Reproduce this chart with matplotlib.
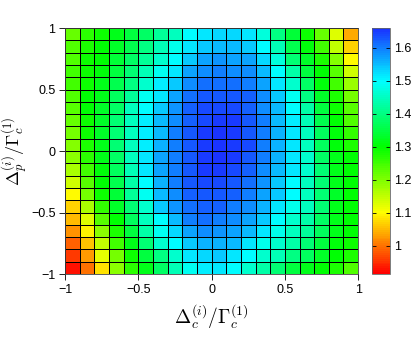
import matplotlib
matplotlib.use("Agg")
import matplotlib.pyplot as plt
import numpy as np
from matplotlib.colors import LinearSegmentedColormap

plt.rcParams['font.family'] = ['Liberation Sans', 'DejaVu Sans']
plt.rcParams['mathtext.fontset'] = 'cm'

# cell edges along both detunings
x_edges = np.linspace(-1, 1, 21)
y_edges = np.linspace(-1, 1, 21)

# cell values, rows listed from top (y = 1) to bottom (y = -1)
z_rows = [
    [1.22, 1.27, 1.29, 1.32, 1.35, 1.38, 1.42, 1.45, 1.50, 1.52, 1.53, 1.53, 1.52, 1.47, 1.40, 1.34, 1.29, 1.22, 1.13, 1.04],
    [1.24, 1.28, 1.30, 1.33, 1.36, 1.40, 1.44, 1.48, 1.52, 1.54, 1.55, 1.55, 1.54, 1.50, 1.44, 1.36, 1.31, 1.25, 1.15, 1.07],
    [1.24, 1.29, 1.30, 1.34, 1.38, 1.42, 1.46, 1.50, 1.54, 1.57, 1.58, 1.57, 1.57, 1.53, 1.47, 1.39, 1.33, 1.28, 1.20, 1.10],
    [1.25, 1.29, 1.31, 1.35, 1.39, 1.44, 1.49, 1.52, 1.57, 1.59, 1.60, 1.59, 1.59, 1.55, 1.50, 1.43, 1.35, 1.30, 1.23, 1.14],
    [1.25, 1.29, 1.32, 1.36, 1.40, 1.46, 1.51, 1.54, 1.59, 1.61, 1.61, 1.61, 1.60, 1.57, 1.52, 1.46, 1.38, 1.31, 1.25, 1.18],
    [1.24, 1.30, 1.32, 1.37, 1.42, 1.49, 1.52, 1.57, 1.61, 1.63, 1.63, 1.63, 1.62, 1.59, 1.54, 1.49, 1.40, 1.33, 1.28, 1.21],
    [1.23, 1.30, 1.33, 1.38, 1.45, 1.50, 1.54, 1.58, 1.62, 1.64, 1.64, 1.64, 1.62, 1.59, 1.55, 1.50, 1.43, 1.35, 1.29, 1.23],
    [1.22, 1.29, 1.33, 1.39, 1.45, 1.51, 1.55, 1.59, 1.62, 1.64, 1.65, 1.65, 1.63, 1.60, 1.55, 1.51, 1.44, 1.36, 1.30, 1.24],
    [1.21, 1.29, 1.33, 1.39, 1.45, 1.51, 1.55, 1.60, 1.63, 1.65, 1.66, 1.65, 1.63, 1.60, 1.56, 1.52, 1.45, 1.37, 1.31, 1.26],
    [1.20, 1.28, 1.32, 1.39, 1.45, 1.51, 1.56, 1.60, 1.63, 1.65, 1.66, 1.65, 1.64, 1.60, 1.56, 1.52, 1.45, 1.37, 1.31, 1.28],
    [1.19, 1.27, 1.32, 1.38, 1.45, 1.52, 1.57, 1.60, 1.63, 1.65, 1.66, 1.65, 1.63, 1.60, 1.56, 1.52, 1.46, 1.38, 1.32, 1.30],
    [1.17, 1.25, 1.31, 1.37, 1.44, 1.52, 1.57, 1.60, 1.63, 1.65, 1.65, 1.64, 1.62, 1.59, 1.55, 1.52, 1.46, 1.39, 1.32, 1.30],
    [1.14, 1.23, 1.30, 1.36, 1.43, 1.50, 1.56, 1.60, 1.63, 1.64, 1.64, 1.63, 1.61, 1.58, 1.54, 1.50, 1.45, 1.39, 1.32, 1.30],
    [1.10, 1.21, 1.29, 1.34, 1.42, 1.49, 1.55, 1.59, 1.62, 1.63, 1.63, 1.62, 1.60, 1.57, 1.54, 1.50, 1.45, 1.39, 1.33, 1.30],
    [1.07, 1.17, 1.26, 1.33, 1.39, 1.46, 1.54, 1.58, 1.61, 1.62, 1.62, 1.60, 1.59, 1.56, 1.52, 1.48, 1.45, 1.39, 1.32, 1.30],
    [1.05, 1.13, 1.23, 1.30, 1.37, 1.45, 1.50, 1.55, 1.60, 1.61, 1.60, 1.59, 1.57, 1.54, 1.50, 1.46, 1.43, 1.38, 1.32, 1.30],
    [1.02, 1.09, 1.19, 1.28, 1.35, 1.43, 1.49, 1.53, 1.57, 1.59, 1.58, 1.57, 1.55, 1.52, 1.48, 1.45, 1.42, 1.37, 1.32, 1.30],
    [0.99, 1.06, 1.15, 1.25, 1.32, 1.39, 1.46, 1.50, 1.54, 1.56, 1.56, 1.55, 1.52, 1.48, 1.46, 1.43, 1.39, 1.35, 1.31, 1.29],
    [0.96, 1.03, 1.12, 1.21, 1.29, 1.35, 1.40, 1.46, 1.52, 1.53, 1.54, 1.52, 1.50, 1.46, 1.44, 1.40, 1.37, 1.33, 1.30, 1.28],
    [0.93, 1.00, 1.08, 1.19, 1.27, 1.32, 1.38, 1.44, 1.49, 1.51, 1.52, 1.50, 1.46, 1.43, 1.39, 1.35, 1.32, 1.30, 1.28, 1.24],
]
z = np.array(z_rows)[::-1]

c_min, c_max = 0.915, 1.66
cbar_ticks = [1.0, 1.1, 1.2, 1.3, 1.4, 1.5, 1.6]
axis_ticks = [-1, -0.5, 0, 0.5, 1]
tick_text = ['\u22121', '\u22120.5', '0', '0.5', '1']

# red -> yellow -> green -> cyan -> blue, hsv-like
stops = [(1.0, 0.0, 0.0), (1.0, 1.0, 0.0), (0.0, 1.0, 0.0), (0.0, 1.0, 1.0), (0.1, 0.2, 1.0)]
pos = [0.0, (1.1 - c_min) / (c_max - c_min), (1.3 - c_min) / (c_max - c_min),
       (1.5 - c_min) / (c_max - c_min), 1.0]
cmap = LinearSegmentedColormap.from_list('hsvcut', list(zip(pos, stops)), N=128)

fig = plt.figure(figsize=(4.15, 3.46), dpi=100)
ax = fig.add_axes([0.157, 0.208, 0.706, 0.711])
mesh = ax.pcolormesh(x_edges, y_edges, z, cmap=cmap, vmin=c_min, vmax=c_max,
                     edgecolors='k', linewidth=0.55)
ax.set_xlim(-1, 1)
ax.set_ylim(-1, 1)
ax.set_xticks(axis_ticks)
ax.set_yticks(axis_ticks)
ax.set_xticklabels(tick_text)
ax.set_yticklabels(tick_text)
ax.tick_params(direction='out', length=4, width=0.6, labelsize=9, pad=3)
for s in ax.spines.values():
    s.set_linewidth(0.6)
    s.set_color('0.25')
ax.set_xlabel(r'$\Delta_c^{(i)}/\Gamma_c^{(1)}$', fontsize=14)
ax.set_ylabel(r'$\Delta_p^{(i)}/\Gamma_c^{(1)}$', fontsize=13)
ax.xaxis.set_label_coords(0.5, -0.118)
ax.yaxis.set_label_coords(-0.12, 0.5)

cax = fig.add_axes([0.896, 0.208, 0.043, 0.711])
cb = fig.colorbar(mesh, cax=cax, ticks=cbar_ticks)
cb.ax.set_yticklabels(['1', '1.1', '1.2', '1.3', '1.4', '1.5', '1.6'])
cb.ax.tick_params(direction='in', length=3, width=0.6, labelsize=9, left=True, right=True, pad=3)
cb.outline.set_linewidth(0.6)
cb.outline.set_edgecolor('0.4')

fig.savefig('out.png', dpi=100)
